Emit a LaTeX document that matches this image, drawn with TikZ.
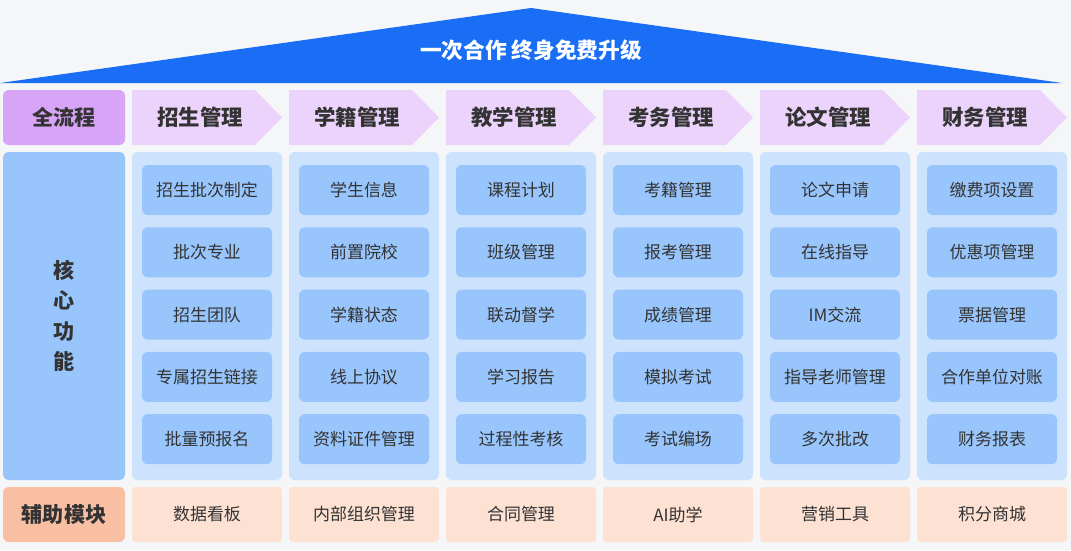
\documentclass[tikz,border=0pt]{standalone}
\usepackage{fontspec}
\setmainfont{Noto Sans CJK SC}
\definecolor{bgray}{HTML}{F5F6F8}
\definecolor{roofblue}{HTML}{1A6EF5}
\definecolor{flowpurple}{HTML}{D7A4F8}
\definecolor{headpurple}{HTML}{EBD3FC}
\definecolor{panelblue}{HTML}{CDE3FD}
\definecolor{itemblue}{HTML}{98C5FB}
\definecolor{auxpeach}{HTML}{F8BFA3}
\definecolor{auxlight}{HTML}{FDE1D3}
\definecolor{txtdark}{HTML}{333333}
\tikzset{
  sidebox/.style={rounded corners=5pt,minimum width=122*0.03cm,font=\bfseries\fontsize{18}{26}\selectfont,text=txtdark},
  headtext/.style={font=\bfseries\fontsize{18.3}{21}\selectfont,text=txtdark},
  itembox/.style={fill=itemblue,rounded corners=5pt,minimum width=130*0.03cm,minimum height=50*0.03cm,font=\fontsize{14.5}{16}\selectfont,text=txtdark},
  auxbox/.style={fill=auxlight,rounded corners=3pt,minimum width=150*0.03cm,minimum height=55*0.03cm,font=\fontsize{14.5}{16}\selectfont,text=txtdark}
}
\begin{document}
\begin{tikzpicture}[x=0.03cm,y=-0.03cm]
	\fill[bgray] (0,0) rectangle (1071,550);
	\useasboundingbox (0,0) rectangle (1071,550);
	% roof
	\fill[roofblue] (0,83) -- (531,8) -- (1062,83) -- cycle;
	\node[text=white,font=\bfseries\fontsize{18.5}{21}\selectfont] (roof) at (531,50) {一次合作 终身免费升级};
	% left column
	\node[sidebox,fill=flowpurple,minimum height=55*0.03cm] (flow) at (64,117.5) {全流程};
	\node[sidebox,fill=itemblue,minimum height=328*0.03cm,align=center] (core) at (64,316) {核\\心\\功\\能};
	\node[sidebox,fill=auxpeach,minimum height=55*0.03cm] (aux) at (64,514.5) {辅助模块};
	% columns
	\foreach \i/\head/\a/\b/\c/\d/\e/\aux in {
		0/招生管理/招生批次制定/批次专业/招生团队/专属招生链接/批量预报名/数据看板,
		1/学籍管理/学生信息/前置院校/学籍状态/线上协议/资料证件管理/内部组织管理,
		2/教学管理/课程计划/班级管理/联动督学/学习报告/过程性考核/合同管理,
		3/考务管理/考籍管理/报考管理/成绩管理/模拟考试/考试编场/AI助学,
		4/论文管理/论文申请/在线指导/IM交流/指导老师管理/多次批改/营销工具,
		5/财务管理/缴费项设置/优惠项管理/票据管理/合作单位对账/财务报表/积分商城}{
		\pgfmathsetmacro{\xa}{132+157*\i}
		\fill[headpurple] (\xa,90) -- ++(123,0) -- ++(27,27.5) -- ++(-27,27.5) -- ++(-123,0) -- cycle;
		\node[headtext] (head\i) at (\xa+68,117.5) {\head};
		\fill[panelblue,rounded corners=5pt] (\xa,152) rectangle ++(150,328);
		\foreach \t [count=\j from 0] in {\a,\b,\c,\d,\e}
			\node[itembox] (item\i\j) at (\xa+75,190+62.3*\j) {\t};
		\node[auxbox] (aux\i) at (\xa+75,514.5) {\aux};
	}
\end{tikzpicture}
\end{document}
